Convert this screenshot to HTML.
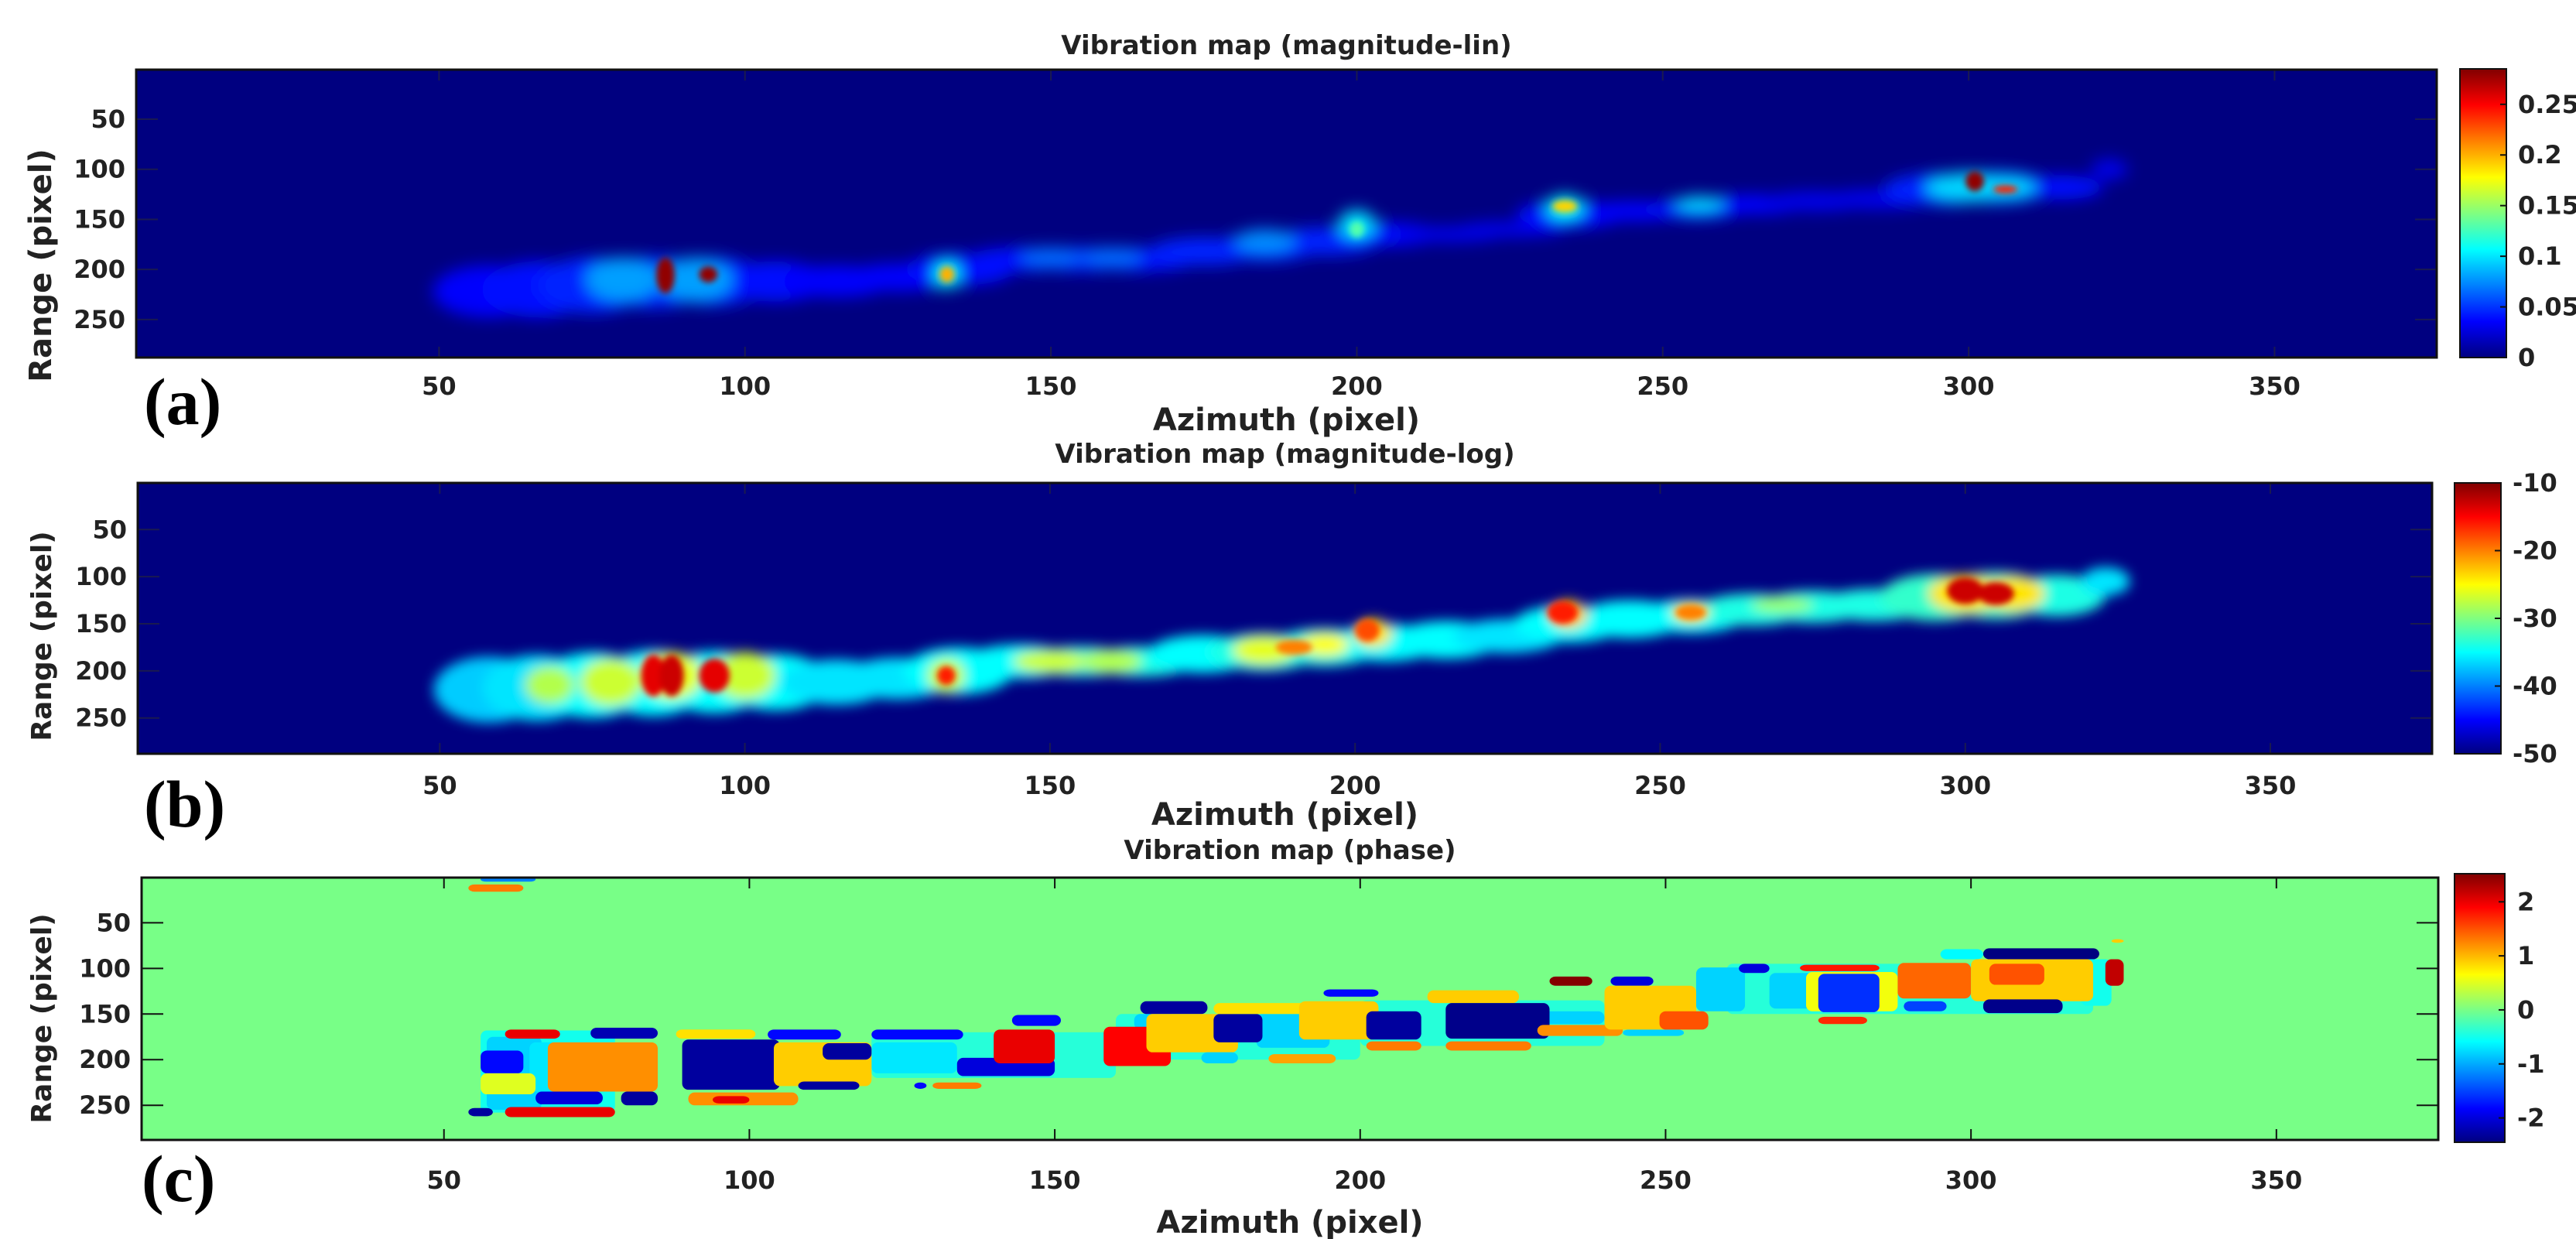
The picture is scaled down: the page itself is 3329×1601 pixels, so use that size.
<!DOCTYPE html>
<html><head><meta charset="utf-8">
<style>
html,body{margin:0;padding:0;background:#fff;}
svg{display:block;}
text{font-family:"DejaVu Sans","Liberation Sans",sans-serif;font-weight:bold;fill:#222;}
</style></head>
<body>
<svg id="fig" width="3329" height="1601" viewBox="0 0 3329 1601" xmlns="http://www.w3.org/2000/svg">
<defs>
<filter id="blurA" x="-20%" y="-20%" width="140%" height="140%"><feGaussianBlur stdDeviation="10"/></filter>
<filter id="blurB" x="-20%" y="-20%" width="140%" height="140%"><feGaussianBlur stdDeviation="8"/></filter>
<filter id="blurH" x="-50%" y="-50%" width="200%" height="200%"><feGaussianBlur stdDeviation="4"/></filter>
</defs>
</svg>
<script>
// ---------- Panel (a): magnitude-lin blobs [azimuth, range, half-width(az), half-height(range), value]
const linBlobAz    = [58,66,75,85,95,105,115,125,135,145,155,165,175,185,195,205,215,225,235,245,255,265,275,285,295,305,315,323, 80,92,133,150,160,185,200,234,256,300,305, 87,94,133,234,200,301,306];
const linBlobRange = [222,220,216,213,212,212,212,208,200,190,190,190,182,178,172,165,165,160,145,142,140,135,132,130,120,118,118,100, 210,210,205,188,188,172,155,138,135,118,118, 206,205,205,137,160,112,120];
const linBlobW     = [9,9,9,9,9,9,9,9,9,9,9,9,9,9,9,9,9,9,9,9,9,9,9,9,9,9,7,3, 6,6,2,5,5,5,3,3,4,7,6, 1.5,1.5,1.2,2,1.2,1.5,2];
const linBlobH     = [26,28,28,26,24,20,16,14,16,12,12,12,14,14,14,12,8,8,14,10,10,10,10,10,16,16,12,10, 22,22,14,10,10,12,14,12,8,15,12, 18,8,8,6,8,10,4];
const linBlobVal   = [0.035,0.04,0.045,0.045,0.045,0.04,0.035,0.035,0.04,0.04,0.04,0.04,0.045,0.045,0.045,0.04,0.03,0.03,0.04,0.035,0.04,0.035,0.03,0.03,0.045,0.045,0.04,0.03, 0.08,0.08,0.11,0.065,0.065,0.075,0.1,0.11,0.095,0.095,0.095, 0.28,0.28,0.2,0.19,0.13,0.28,0.24];

// ---------- Panel (b): magnitude-log blobs
const logBlobAz    = [58,66,75,85,95,105,115,125,135,145,155,165,175,185,195,205,215,225,235,245,255,265,275,285,295,305,315,323, 68,78,88,100,133,150,160,185,195,203,235,255,270,300,308, 85,88,95,133,234,202,300,305,190,255];
const logBlobRange = [220,218,215,213,212,212,212,208,200,190,190,190,182,180,175,170,167,163,150,145,142,135,132,130,122,120,120,105, 215,212,205,205,205,190,190,178,172,160,140,138,130,118,118, 205,205,205,205,138,157,115,118,175,138];
const logBlobW     = [9,9,9,9,9,9,9,9,9,9,9,9,9,9,9,9,9,9,9,9,9,9,9,9,9,9,8,4, 4,5,5,5,3,6,5,5,4,3,3,3,5,6,5, 2,2,2.5,1.5,2.5,2,3,3,3,2.5];
const logBlobH     = [35,35,35,35,33,30,24,22,25,18,16,16,20,20,20,20,20,18,20,20,18,17,17,17,25,25,22,15, 20,25,25,25,18,12,12,15,12,15,15,10,8,20,18, 22,22,18,10,12,12,14,12,8,8];
const logBlobVal   = [-37,-36,-35,-35,-35,-35,-36,-36,-35,-35,-34,-34,-35,-34,-34,-35,-35,-36,-35,-35,-35,-34,-34,-34,-33,-33,-34,-36, -28,-27,-26,-27,-27,-27,-28,-26,-25,-24,-23,-24,-29,-24,-24, -14,-13,-14,-16,-16,-18,-13,-13,-20,-20];

// ---------- Panel (c): phase patches [az0, az1, range0, range1, value]
const phAz0 = [56,120,160,200,260, 57,64,120,163,183,230,243,255,267,318, 54,56,60,74,88,103,120,67,89,104,112,134,140,158,108,130,127,65,79,90,60,54,56,56,164,143,165,176,174,185,176,190,194,201,201,211,214,214,229,231,241,240,249,262,272,273,275,275,288,289,295,302,300,302,322,323,94,303];
const phAz1 = [78,160,200,240,320, 66,75,134,170,195,240,253,263,275,323, 63,65,69,85,101,115,135,85,105,120,120,150,150,169,118,138,129,76,85,108,78,58,63,65,175,151,180,184,180,196,194,203,203,210,210,226,231,228,243,238,248,255,257,267,285,288,285,283,300,296,302,321,320,315,325,325,100,312];
const phR0  = [168,170,150,135,95, 175,181,181,150,150,147,167,99,105,90, 8,0,167,165,167,167,167,181,178,181,182,198,167,164,224,225,225,235,235,236,252,253,190,215,136,151,150,150,192,194,138,136,123,147,180,124,138,180,162,109,109,119,147,95,96,104,106,153,94,136,79,78,90,134,90,68,240,95];
const phR1  = [258,220,200,185,150, 255,235,215,167,187,161,174,147,144,141, 16,5,177,177,177,178,178,235,233,229,200,218,204,207,233,232,232,249,250,250,263,262,215,238,150,163,192,181,204,204,150,178,131,178,190,138,177,190,174,119,119,167,167,105,103,147,148,161,133,147,90,90,136,149,119,72,248,118];
const phVal = [-0.5,-0.4,-0.4,-0.4,-0.4, -0.8,-0.7,-0.7,-0.8,-0.8,-0.8,-0.8,-0.8,-0.8,-0.5, 1.3,-1.2,2.0,-2.2,0.8,-1.8,-1.8,1.2,-2.3,0.9,-2.3,-2.0,2.0,1.9,-2.3,1.3,-1.8,-2.0,-2.3,1.2,2.0,-2.3,-1.8,0.5,-2.3,-1.8,0.9,-2.3,-0.8,1.1,0.8,0.9,-1.8,-2.3,1.3,0.9,-2.4,1.3,1.2,2.5,-2.0,0.9,1.5,-2.0,1.8,0.6,-1.6,1.7,1.4,-1.5,-0.6,-2.5,0.9,-2.4,2.2,0.9,2.0,1.5];

// ---------- ticks
const xTicks = [50,100,150,200,250,300,350];
const yTicks = [50,100,150,200,250];
const cbTicksA = [0,0.05,0.1,0.15,0.2,0.25];
const cbLabelsA = ['0','0.05','0.1','0.15','0.2','0.25'];
const cbTicksB = [-50,-40,-30,-20,-10];
const cbTicksC = [-2,-1,0,1,2];

const NS = 'http://www.w3.org/2000/svg';
const svg = document.getElementById('fig');
function mk(tag, attrs, parent){const e=document.createElementNS(NS,tag);for(const k in attrs)e.setAttribute(k,attrs[k]);(parent||svg).appendChild(e);return e;}
function cl(v){return Math.max(0,Math.min(1,v));}
function jet(t){t=cl(t);const r=cl(1.5-Math.abs(4*t-3)),g=cl(1.5-Math.abs(4*t-2)),b=cl(1.5-Math.abs(4*t-1));
  return 'rgb('+Math.round(r*255)+','+Math.round(g*255)+','+Math.round(b*255)+')';}

const panels = [
 {id:'a', L:176,R:3149,T:90,B:462, vmin:0,vmax:0.285, hot:0.12, title:'Vibration map (magnitude-lin)', titleY:70, tickY:510, xlabY:556, tagX:186, tagY:548, ylY:343, ylS:40,
  cbL:3179,cbR:3239,cbT:89,cbB:462, cbX:3254, cbTicks:cbTicksA, cbLabels:cbLabelsA, tickColor:'#1a1a50'},
 {id:'b', L:178,R:3143,T:624,B:974, vmin:-50,vmax:-10, hot:-21, title:'Vibration map (magnitude-log)', titleY:598, tickY:1026, xlabY:1066, tagX:186, tagY:1068, ylY:822, ylS:36,
  cbL:3172,cbR:3232,cbT:624,cbB:974, cbX:3247, cbTicks:cbTicksB, cbLabels:cbTicksB.map(String), tickColor:'#1a1a50'},
 {id:'c', L:183,R:3151,T:1134,B:1473, vmin:-2.45,vmax:2.52, title:'Vibration map (phase)', titleY:1110, tickY:1536, xlabY:1593, tagX:183, tagY:1552, ylY:1316, ylS:36,
  cbL:3172,cbR:3237,cbT:1129,cbB:1476, cbX:3253, cbTicks:cbTicksC, cbLabels:cbTicksC.map(String), tickColor:'#111'}
];

panels.forEach(p=>{
  const xs = a => p.L + (a-0.5)/(376.5-0.5)*(p.R-p.L);
  const ys = r => p.T + (r-0.5)/(288-0.5)*(p.B-p.T);
  const col = v => jet((v-p.vmin)/(p.vmax-p.vmin));
  const g = mk('g',{});
  
  
  const cp = mk('clipPath',{id:'clip'+p.id},g);
  mk('rect',{x:p.L,y:p.T,width:p.R-p.L,height:p.B-p.T},cp);
  const bg = mk('rect',{x:p.L,y:p.T,width:p.R-p.L,height:p.B-p.T,fill:col(p.id==='c'?0:p.vmin)},g);
  
  
  const hm = mk('g',{'clip-path':'url(#clip'+p.id+')'},g);
  
  
  if(p.id==='a'||p.id==='b'){
    const AZ=p.id==='a'?linBlobAz:logBlobAz, RG=p.id==='a'?linBlobRange:logBlobRange, W=p.id==='a'?linBlobW:logBlobW, H=p.id==='a'?linBlobH:logBlobH, V=p.id==='a'?linBlobVal:logBlobVal;
    const bl = mk('g',{filter:'url(#blur'+(p.id==='a'?'A':'B')+')'},hm);
    const bh = mk('g',{filter:'url(#blurH)'},hm);
    AZ.forEach((a,i)=>{
      const cx=xs(a), cy=ys(RG[i]);
      const rx=xs(a+W[i])-cx, ry=ys(RG[i]+H[i])-cy;
      const e=mk('ellipse',{cx:cx,cy:cy,rx:rx,ry:ry,fill:col(V[i])},V[i]>p.hot?bh:bl);
      
      
    });
  } else {
    phAz0.forEach((a,i)=>{
      const x0=xs(a), x1=xs(phAz1[i]), y0=ys(phR0[i]), y1=ys(phR1[i]);
      const r=mk('rect',{x:x0,y:y0,width:x1-x0,height:y1-y0,rx:8,ry:8,fill:col(phVal[i])},hm);
      
      
    });
  }
  xTicks.forEach(t=>{
    const x=xs(t);
    mk('line',{x1:x,x2:x,y1:p.T,y2:p.T+14,stroke:p.tickColor,'stroke-width':2},g);
    mk('line',{x1:x,x2:x,y1:p.B,y2:p.B-14,stroke:p.tickColor,'stroke-width':2},g);
    const tl=mk('text',{x:x,y:p.tickY,'font-size':32,'text-anchor':'middle'},g);
    tl.textContent=t;
    
    
  });
  yTicks.forEach(t=>{
    const y=ys(t);
    mk('line',{x1:p.L,x2:p.L+28,y1:y,y2:y,stroke:p.tickColor,'stroke-width':2},g);
    mk('line',{x1:p.R,x2:p.R-28,y1:y,y2:y,stroke:p.tickColor,'stroke-width':2},g);
    const tl=mk('text',{x:p.L-14,y:y+11,'font-size':32,'text-anchor':'end'},g);
    tl.textContent=t;
    
    
  });
  const box=mk('rect',{x:p.L,y:p.T,width:p.R-p.L,height:p.B-p.T,fill:'none',stroke:'#111','stroke-width':3},g);
  
  
  const ti=mk('text',{x:(p.L+p.R)/2,y:p.titleY,'font-size':34,'text-anchor':'middle'},g);
  ti.textContent=p.title;
  
  
  const xl=mk('text',{x:(p.L+p.R)/2,y:p.xlabY,'font-size':40,'text-anchor':'middle'},g);
  xl.textContent='Azimuth (pixel)';
  
  
  const yl=mk('text',{x:0,y:0,'font-size':p.ylS,'text-anchor':'middle',transform:'translate(66,'+p.ylY+') rotate(-90)'},g);
  yl.textContent='Range (pixel)';
  
  
  const tag=mk('text',{x:p.tagX,y:p.tagY,'font-size':86,style:'font-family:"Liberation Serif",serif;font-weight:bold;fill:#000'},g);
  tag.textContent='('+p.id+')';
  
  
  const lg=mk('linearGradient',{id:'grad'+p.id,x1:0,y1:1,x2:0,y2:0},g);
  for(let i=0;i<=16;i++){mk('stop',{offset:(i/16),'stop-color':jet(i/16)},lg);}
  const cb=mk('rect',{x:p.cbL,y:p.cbT,width:p.cbR-p.cbL,height:p.cbB-p.cbT,fill:'url(#grad'+p.id+')',stroke:'#111','stroke-width':2},g);
  
  
  p.cbTicks.forEach((t,i)=>{
    const y=p.cbB-(t-p.vmin)/(p.vmax-p.vmin)*(p.cbB-p.cbT);
    mk('line',{x1:p.cbR,x2:p.cbR-8,y1:y,y2:y,stroke:'#111','stroke-width':2},g);
    const cl2=mk('text',{x:p.cbX,y:y+11,'font-size':32,'text-anchor':'start'},g);
    cl2.textContent=p.cbLabels[i];
    
    
  });
});
</script>
</body></html>
